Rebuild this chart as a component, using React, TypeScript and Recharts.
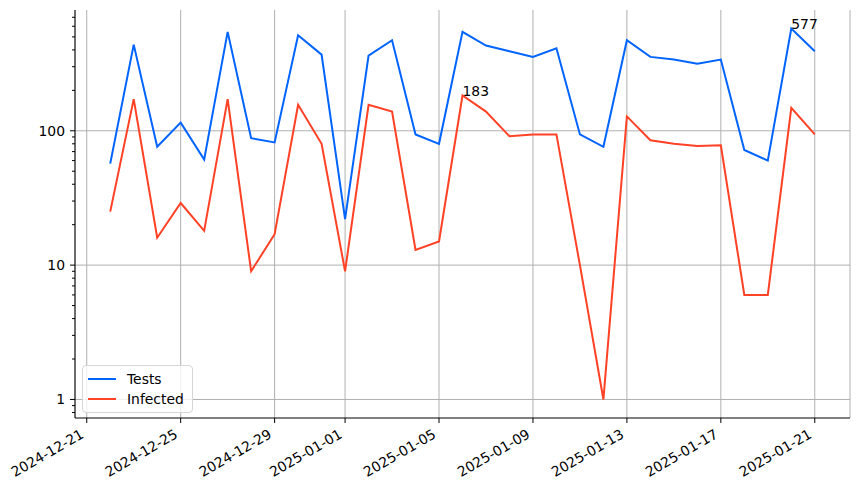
import React from 'react';
import { LineChart, Line, XAxis, YAxis, CartesianGrid, Legend } from 'recharts';

const dates = [
  '2024-12-22', '2024-12-23', '2024-12-24', '2024-12-25', '2024-12-26', '2024-12-27',
  '2024-12-28', '2024-12-29', '2024-12-30', '2024-12-31', '2025-01-01', '2025-01-02',
  '2025-01-03', '2025-01-04', '2025-01-05', '2025-01-06', '2025-01-07', '2025-01-08',
  '2025-01-09', '2025-01-10', '2025-01-11', '2025-01-12', '2025-01-13', '2025-01-14',
  '2025-01-15', '2025-01-16', '2025-01-17', '2025-01-18', '2025-01-19', '2025-01-20',
  '2025-01-21',
];
const tests = [
  57, 438, 76, 115, 61, 545, 88, 82, 514, 369, 22, 363, 472, 94, 80, 545,
  431, 391, 355, 411, 94, 76, 472, 355, 339, 315, 339, 72, 60, 577, 391,
];
const infected = [
  25, 172, 16, 29, 18, 172, 9, 17, 156, 80, 9, 156, 139, 13, 15, 183,
  139, 91, 94, 94, 10, 1, 128, 85, 80, 77, 78, 6, 6, 148, 94,
];
const xTickLabels = [
  '2024-12-21', '2024-12-25', '2024-12-29', '2025-01-01', '2025-01-05',
  '2025-01-09', '2025-01-13', '2025-01-17', '2025-01-21',
];
const yMajor = [1, 10, 100];
const yMinor = [0.8, 0.9, 2, 3, 4, 5, 6, 7, 8, 9, 20, 30, 40, 50, 60, 70, 80, 90, 200, 300, 400, 500, 600, 700];

const FONT = '"DejaVu Sans", Verdana, sans-serif';
const FS = 13.9;
const PLOT_LEFT = 75;
const BLUE = '#0064ff';
const RED = '#ff4125';

const data = dates.map((d, i) => ({ t: Date.parse(d), tests: tests[i], infected: infected[i] }));

// matplotlib-like 5% margins
const tMin = data[0].t;
const tMax = data[data.length - 1].t;
const xDomain = [tMin - 0.05 * (tMax - tMin), tMax + 0.05 * (tMax - tMin)];
const allVals = [...tests, ...infected];
const lMin = Math.log10(Math.min(...allVals));
const lMax = Math.log10(Math.max(...allVals));
const yDomain = [Math.pow(10, lMin - 0.05 * (lMax - lMin)), Math.pow(10, lMax + 0.05 * (lMax - lMin))];

const yTicks = [...yMajor, ...yMinor].sort((a, b) => a - b);

const XTick = ({ x, y, payload }: any) => {
  const label = new Date(payload.value).toISOString().slice(0, 10);
  return (
    <text
      transform={`translate(${x - 2},${y + 14}) rotate(-30)`}
      textAnchor="end"
      fontFamily={FONT}
      fontSize={FS}
      fill="#000"
    >
      {label}
    </text>
  );
};

const YTick = ({ y, payload }: any) => {
  const major = yMajor.includes(payload.value);
  const len = major ? 5 : 3;
  return (
    <g>
      <line x1={PLOT_LEFT - len} x2={PLOT_LEFT} y1={y} y2={y} stroke="#000" strokeWidth={1} />
      {major && (
        <text x={PLOT_LEFT - 10} y={y + 5} textAnchor="end" fontFamily={FONT} fontSize={FS} fill="#000">
          {payload.value}
        </text>
      )}
    </g>
  );
};

const peakLabel = (values: number[]) => {
  const maxIdx = values.indexOf(Math.max(...values));
  return (props: any) => {
    if (props.index !== maxIdx) return <g />;
    return (
      <text x={props.x} y={props.y} fontFamily={FONT} fontSize={FS} fill="#000">
        {props.value}
      </text>
    );
  };
};

const LegendBox = () => (
  <div
    style={{
      border: '1px solid #d6d6d6',
      borderRadius: 4,
      background: 'rgba(255,255,255,0.8)',
      padding: '3px 8px 3px 5px',
      fontFamily: FONT,
      fontSize: FS,
      lineHeight: '20px',
    }}
  >
    {[
      { name: 'Tests', color: BLUE },
      { name: 'Infected', color: RED },
    ].map((e) => (
      <div key={e.name} style={{ display: 'flex', alignItems: 'center' }}>
        <svg width={28} height={4} style={{ marginRight: 11 }}>
          <line x1={0} x2={28} y1={2} y2={2} stroke={e.color} strokeWidth={2} />
        </svg>
        <span>{e.name}</span>
      </div>
    ))}
  </div>
);

export default function App() {
  return (
    <div style={{ position: 'absolute', left: 0, top: 0, width: 860, height: 490, background: '#fff' }}>
      <LineChart width={860} height={490} data={data} margin={{ top: 10, right: 10, left: 0, bottom: 0 }}>
        <CartesianGrid stroke="#b0b0b0" strokeWidth={1} horizontalValues={yMajor} />
        <XAxis
          dataKey="t"
          type="number"
          domain={xDomain}
          allowDataOverflow
          ticks={xTickLabels.map((d) => Date.parse(d))}
          interval={0}
          height={72}
          tickSize={5}
          tickMargin={0}
          axisLine={{ stroke: '#000', strokeWidth: 1 }}
          tickLine={{ stroke: '#000', strokeWidth: 1 }}
          tick={<XTick />}
        />
        <YAxis
          scale="log"
          domain={yDomain}
          allowDataOverflow
          ticks={yTicks}
          interval={0}
          width={PLOT_LEFT}
          tickLine={false}
          axisLine={{ stroke: '#000', strokeWidth: 1 }}
          tick={<YTick />}
        />
        <Legend
          layout="vertical"
          align="center"
          verticalAlign="middle"
          wrapperStyle={{ left: 82, top: 365, width: 'auto' }}
          content={<LegendBox />}
        />
        <Line
          dataKey="tests"
          name="Tests"
          type="linear"
          stroke={BLUE}
          strokeWidth={2}
          dot={false}
          isAnimationActive={false}
          label={peakLabel(tests)}
        />
        <Line
          dataKey="infected"
          name="Infected"
          type="linear"
          stroke={RED}
          strokeWidth={2}
          dot={false}
          isAnimationActive={false}
          label={peakLabel(infected)}
        />
      </LineChart>
    </div>
  );
}
